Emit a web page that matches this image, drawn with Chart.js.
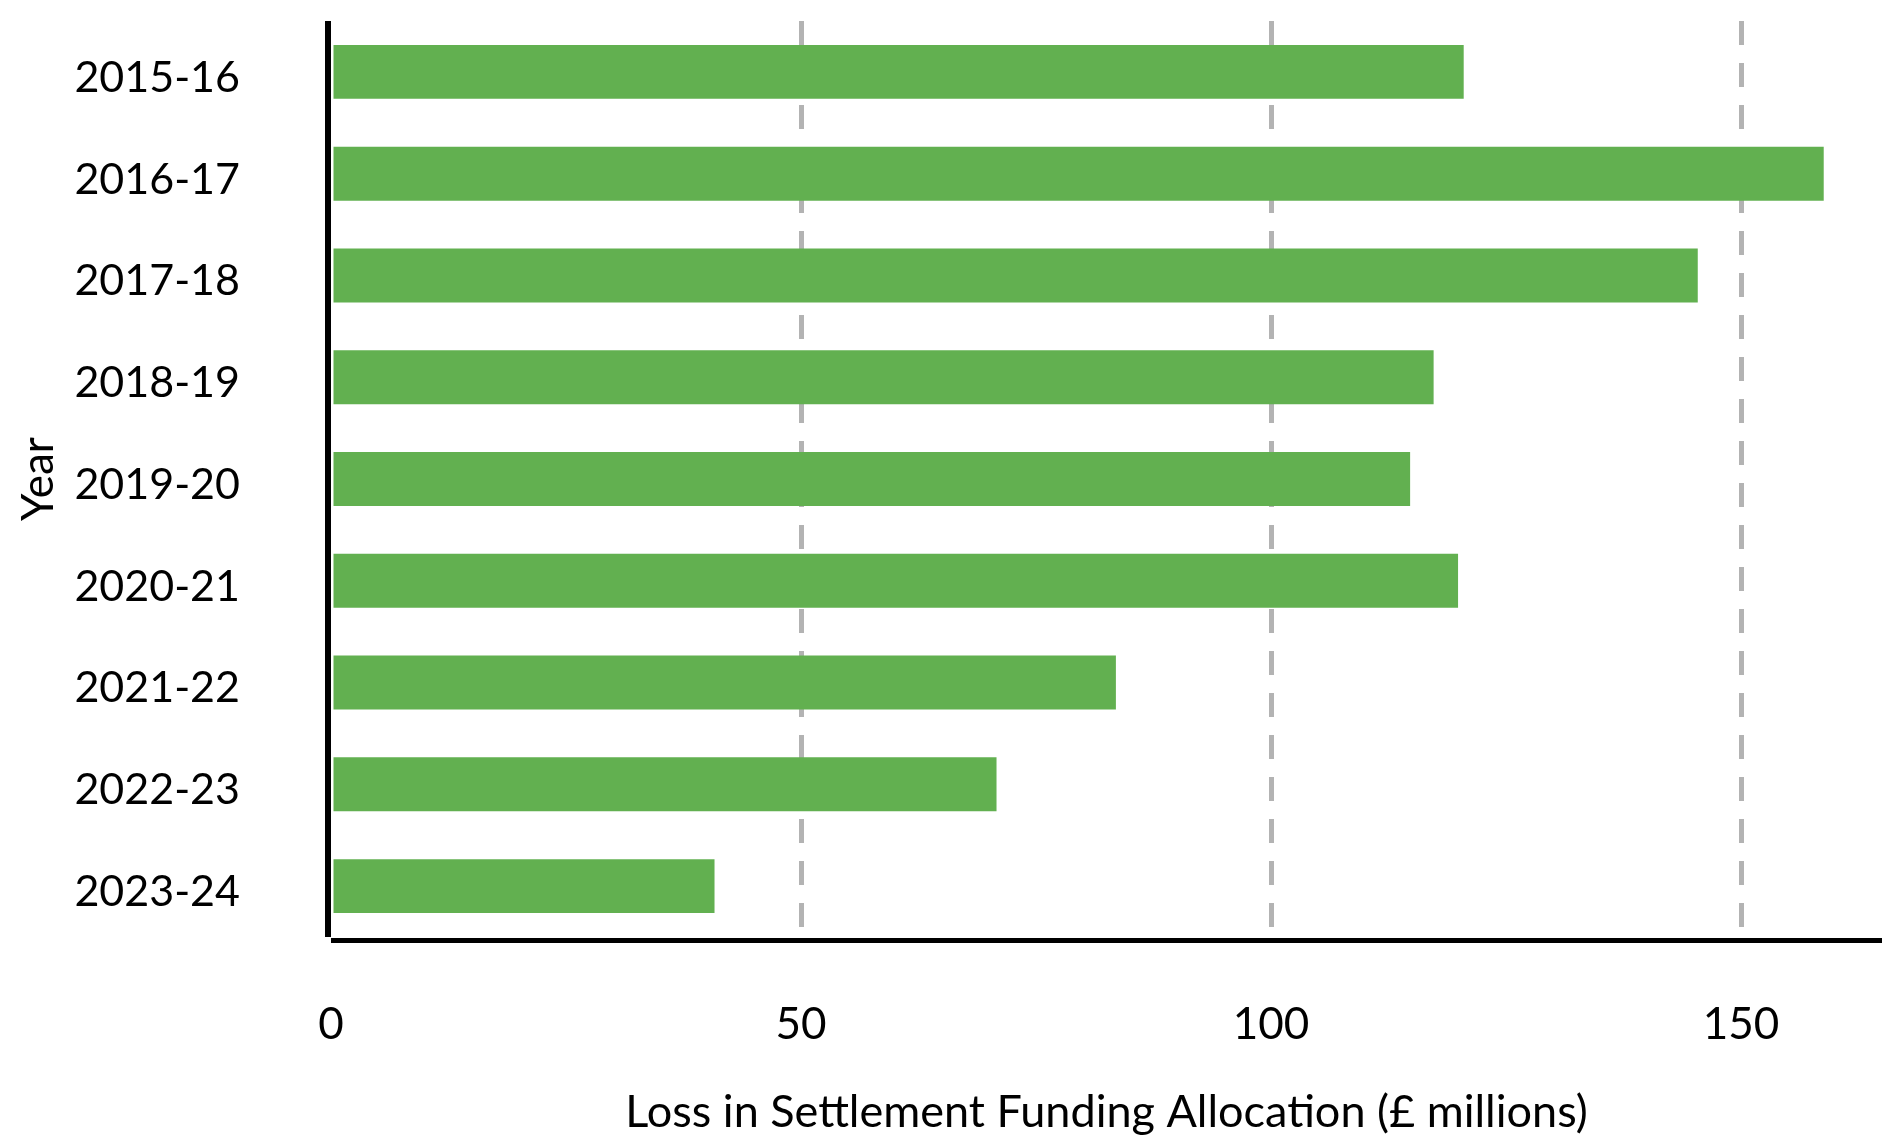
<!DOCTYPE html>
<html>
<head>
<meta charset="utf-8">
<script src="https://cdn.jsdelivr.net/npm/chart.js@4.4.0/dist/chart.umd.min.js"></script>
<style>
  html, body { margin: 0; padding: 0; background: #fff; }
  #wrap { width: 1882px; height: 1139px; }
</style>
</head>
<body>
<div id="wrap"><canvas id="chart"></canvas></div>
<script>
const years = ['2015-16', '2016-17', '2017-18', '2018-19', '2019-20', '2020-21', '2021-22', '2022-23', '2023-24'];
const lossValues = [120.5, 158.8, 145.4, 117.3, 114.8, 119.9, 83.5, 70.8, 40.8];
const xTicks = [0, 50, 100, 150];
const xTitle = 'Loss in Settlement Funding Allocation (£ millions)';
const yTitle = 'Year';

// axis lines drawn outside the plot area, on top of the bars
const axisLines = {
    id: 'axisLines',
    afterDatasetsDraw(chart) {
        const { ctx, chartArea } = chart;
        ctx.save();
        ctx.strokeStyle = '#000';
        ctx.lineWidth = 6;
        ctx.beginPath();
        ctx.moveTo(chartArea.left - 3, chartArea.top);
        ctx.lineTo(chartArea.left - 3, chartArea.bottom);
        ctx.stroke();
        ctx.lineWidth = 5;
        ctx.beginPath();
        ctx.moveTo(chartArea.left, chartArea.bottom + 3.5);
        ctx.lineTo(chartArea.right, chartArea.bottom + 3.5);
        ctx.stroke();
        ctx.restore();
    }
};

new Chart(document.getElementById('chart'), {
    type: 'bar',
    data: {
        labels: years,
        datasets: [{
            data: lossValues,
            backgroundColor: '#62b050',
            barPercentage: 0.53,
            categoryPercentage: 1
        }]
    },
    options: {
        indexAxis: 'y',
        responsive: true,
        maintainAspectRatio: false,
        animation: false,
        layout: { padding: { top: 21, right: 0, bottom: 0, left: 0 } },
        plugins: {
            legend: { display: false },
            tooltip: { enabled: false }
        },
        scales: {
            x: {
                min: 0,
                max: 165,
                afterBuildTicks: (s) => { s.ticks = xTicks.map(v => ({ value: v })); },
                afterFit: (s) => { s.height = 202; s.paddingLeft = 0; s.paddingRight = 0; },
                border: { display: false, dash: [24, 18] },
                grid: {
                    drawTicks: false,
                    lineWidth: 5,
                    color: (c) => c.tick && c.tick.value === 0 ? 'rgba(0,0,0,0)' : '#b3b3b3'
                },
                ticks: {
                    padding: 61,
                    color: '#000',
                    font: { family: 'Lato', size: 44 }
                },
                title: {
                    display: true,
                    text: xTitle,
                    color: '#000',
                    font: { family: 'Lato', size: 45 },
                    padding: { top: 0, bottom: 0 }
                }
            },
            y: {
                afterFit: (s) => { s.width = 331; s.paddingTop = 0; s.paddingBottom = 0; },
                border: { display: false },
                grid: { display: false, drawTicks: false },
                ticks: {
                    padding: 91,
                    labelOffset: 6,
                    color: '#000',
                    font: { family: 'Lato', size: 43 }
                },
                title: {
                    display: true,
                    text: yTitle,
                    color: '#000',
                    font: { family: 'Lato', size: 44 },
                    padding: { top: 12, bottom: 0 }
                }
            }
        }
    },
    plugins: [axisLines]
});
</script>
</body>
</html>
